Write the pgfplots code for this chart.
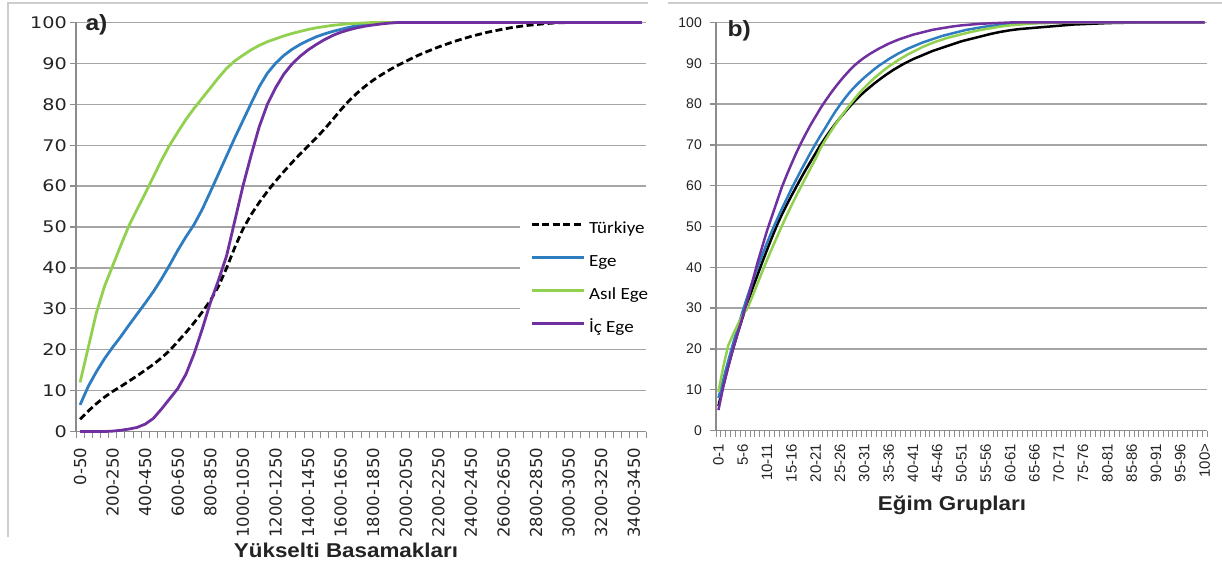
\documentclass[border=0pt]{standalone}
\usepackage{fontspec}
\setmainfont{Liberation Sans}
\usepackage{pgfplots}
\usepackage{pgfplotstable}
\pgfplotsset{compat=1.18}
\newfontfamily\ytfont[FakeStretch=1.2]{DejaVu Sans}
\newfontfamily\xtfont{DejaVu Sans}
\newfontfamily\legfont[FakeStretch=1.12]{Carlito}
\newfontfamily\titfont[FakeStretch=1.12]{Liberation Sans}
\definecolor{cege}{RGB}{46,125,192}
\definecolor{casil}{RGB}{146,208,80}
\definecolor{cic}{RGB}{112,48,160}
\definecolor{cgrid}{RGB}{165,165,165}
\definecolor{caxis}{RGB}{140,140,140}
\definecolor{cframe}{RGB}{205,205,205}
\definecolor{ctext}{RGB}{35,35,35}

\pgfplotstableread{
i tur ege asil ic
0 3 6.5 12 0
1 5 11 20.5 0
2 6.8 14.6 29 0
3 8.4 17.8 35.5 0
4 9.8 20.6 40.5 0.1
5 11 23.2 45.5 0.3
6 12.3 26 50.3 0.6
7 13.6 28.7 54.3 1
8 15 31.4 58.2 1.8
9 16.4 34.2 62.3 3.2
10 18 37.3 66.3 5.5
11 19.8 40.7 70 8
12 22 44.3 73.2 10.5
13 24.2 47.6 76.3 14
14 26.6 50.6 79 19
15 29.2 54.3 81.5 25
16 32 58.6 84 31.5
17 35.5 63 86.5 37
18 40 67.4 88.8 43
19 45 71.8 90.6 51.5
20 49.5 76 92 60
21 53 80.2 93.3 67.5
22 56 84.3 94.4 74.5
23 58.7 87.6 95.3 80
24 61.2 90 96 84
25 63.5 91.9 96.7 87.3
26 65.7 93.4 97.3 89.8
27 67.8 94.6 97.8 91.7
28 69.8 95.6 98.3 93.3
29 71.8 96.5 98.7 94.6
30 73.9 97.2 99 95.8
31 76.2 97.8 99.3 96.8
32 78.6 98.3 99.5 97.6
33 80.8 98.8 99.7 98.2
34 82.7 99.2 99.8 98.7
35 84.4 99.5 99.9 99.1
36 85.9 99.75 100 99.4
37 87.2 99.9 100 99.65
38 88.4 100 100 99.85
39 89.5 100 100 100
40 90.5 100 100 100
41 91.5 100 100 100
42 92.4 100 100 100
43 93.2 100 100 100
44 94 100 100 100
45 94.7 100 100 100
46 95.4 100 100 100
47 96 100 100 100
48 96.6 100 100 100
49 97.1 100 100 100
50 97.6 100 100 100
51 98 100 100 100
52 98.4 100 100 100
53 98.75 100 100 100
54 99.05 100 100 100
55 99.3 100 100 100
56 99.5 100 100 100
57 99.7 100 100 100
58 99.85 100 100 100
59 99.95 100 100 100
60 100 100 100 100
61 100 100 100 100
62 100 100 100 100
63 100 100 100 100
64 100 100 100 100
65 100 100 100 100
66 100 100 100 100
67 100 100 100 100
68 100 100 100 100
69 100 100 100 100
}\lefttab

\pgfplotstableread{
j tur ege asil ic
0 6 8 9.5 5
1 11 12.5 15.6 10.8
2 15.7 17 20.8 15.5
3 20 21.3 23.5 20
4 24 25.4 26 24
5 27.8 29.3 28.3 28
6 31.4 33 30 32
7 34.8 36.5 32.9 36.5
8 38 39.8 35.9 41
9 41.2 43 38.9 45
10 44.3 46 41.8 49
11 47.3 48.9 44.6 52.5
12 50.2 51.6 47.3 56
13 52.8 54.2 50 59.5
14 55.2 56.7 52.6 62.5
15 57.5 59.2 55.1 65.3
16 59.7 61.5 57.5 68
17 61.9 63.8 59.8 70.5
18 64 66 62.1 72.8
19 66 68.2 64.4 75
20 68 70.3 66.6 77
21 70 72.3 69.2 79
22 71.8 74.2 71.2 80.8
23 73.5 76.2 73.1 82.5
24 75.1 78.1 74.9 84.1
25 76.6 79.8 76.6 85.6
26 78 81.4 78.2 87
27 79.4 82.9 79.8 88.3
28 80.7 84.2 81.3 89.5
29 81.9 85.4 82.7 90.5
30 83 86.5 84 91.4
31 84 87.5 85.2 92.2
32 85 88.5 86.3 92.9
33 85.9 89.4 87.3 93.6
34 86.8 90.2 88.3 94.2
35 87.6 91 89.2 94.8
36 88.4 91.7 90 95.3
37 89.1 92.4 90.8 95.8
38 89.8 93 91.5 96.2
39 90.4 93.6 92.2 96.6
40 91 94.1 92.8 97
41 91.5 94.6 93.4 97.3
42 92 95.1 94 97.6
43 92.5 95.5 94.5 97.9
44 93 95.9 95 98.2
45 93.4 96.3 95.4 98.4
46 93.8 96.7 95.8 98.6
47 94.2 97 96.2 98.8
48 94.6 97.3 96.5 99
49 95 97.6 96.8 99.15
50 95.4 97.9 97.1 99.3
51 95.7 98.2 97.4 99.4
52 96 98.4 97.7 99.5
53 96.3 98.6 97.95 99.6
54 96.6 98.8 98.2 99.7
55 96.9 99 98.4 99.75
56 97.2 99.15 98.6 99.8
57 97.45 99.3 98.8 99.85
58 97.7 99.4 99 99.9
59 97.9 99.5 99.15 99.95
60 98.1 99.6 99.3 100
61 98.25 99.65 99.4 100
62 98.4 99.7 99.5 100
63 98.5 99.75 99.6 100
64 98.6 99.8 99.7 100
65 98.7 99.85 99.8 100
66 98.8 99.9 99.83 100
67 98.9 99.93 99.86 100
68 99 99.95 99.88 100
69 99.1 100 99.9 100
70 99.2 100 99.92 100
71 99.3 100 99.94 100
72 99.4 100 99.95 100
73 99.5 100 99.96 100
74 99.55 100 99.97 100
75 99.6 100 99.98 100
76 99.65 100 99.99 100
77 99.7 100 100 100
78 99.75 100 100 100
79 99.8 100 100 100
80 99.85 100 100 100
81 99.88 100 100 100
82 99.9 100 100 100
83 99.93 100 100 100
84 99.95 100 100 100
85 99.97 100 100 100
86 100 100 100 100
87 100 100 100 100
88 100 100 100 100
89 100 100 100 100
90 100 100 100 100
91 100 100 100 100
92 100 100 100 100
93 100 100 100 100
94 100 100 100 100
95 100 100 100 100
96 100 100 100 100
97 100 100 100 100
98 100 100 100 100
99 100 100 100 100
100 100 100 100 100
}\righttab

\pgfplotsset{
  panel/.style={
    scale only axis, anchor=south west, clip=false,
    ymin=0, ymax=100, ytick={0,10,...,100},
    axis x line*=bottom, axis y line*=left,
    axis line style={caxis, line width=1.3pt},
    ymajorgrids, major grid style={cgrid, line width=1.3pt},
    tick align=outside, major tick length=6pt, minor tick length=6.5pt,
    major x tick style={draw=none},
    minor x tick style={caxis, line width=1pt},
    major y tick style={caxis, line width=1.3pt},
    /pgf/number format/assume math mode=true,
    xticklabel style={rotate=90, anchor=east, text=ctext, inner sep=0pt},
    yticklabel style={anchor=east, text=ctext, inner sep=0pt},
  }
}

\begin{document}
\begin{tikzpicture}[x=1pt,y=1pt]
\path[use as bounding box] (0,0) rectangle (1222,568);
\draw[cframe, line width=1.5pt] (8,31) -- (8,565) -- (648,565);
\draw[cframe, line width=1.5pt] (668,565) -- (1222,565);

\begin{axis}[panel,
  at={(76pt,136.5pt)}, width=570pt, height=409pt,
  xmin=-0.5, xmax=69.5,
  xtick={0,4,...,68},
  xticklabels={0-50,200-250,400-450,600-650,800-850,1000-1050,1200-1250,1400-1450,1600-1650,1800-1850,2000-2050,2200-2250,2400-2450,2600-2650,2800-2850,3000-3050,3200-3250,3400-3450},
  minor xtick={-0.5,0.5,...,69.5},
  xticklabel style={font=\xtfont\fontsize{16.5}{16.5}\selectfont, xshift=-10pt},
  yticklabel style={font=\ytfont\fontsize{16}{16}\selectfont, xshift=-3pt},
  legend style={at={(0.779,0.534)}, anchor=north west, draw=none, fill=white,
    inner xsep=10pt, inner ysep=8pt, row sep=17pt,
    font=\legfont\fontsize{17}{17}\selectfont,
    nodes={inner sep=0pt, text height=12pt, text depth=4pt, anchor=west}},
  legend image code/.code={\draw[#1] (0pt,5pt) -- (52pt,5pt);},
  legend cell align=left,
]
\addplot[black, line width=2.8pt, dash pattern=on 7pt off 3.5pt] table[x=i,y=tur]{\lefttab};
\addlegendentry{\hspace{4pt}Türkiye}
\addplot[cege, line width=2.8pt] table[x=i,y=ege]{\lefttab};
\addlegendentry{\hspace{4pt}Ege}
\addplot[casil, line width=2.8pt] table[x=i,y=asil]{\lefttab};
\addlegendentry{\hspace{4pt}Asıl Ege}
\addplot[cic, line width=2.8pt] table[x=i,y=ic]{\lefttab};
\addlegendentry{\hspace{4pt}İç Ege}
\end{axis}

\begin{axis}[panel,
  at={(716pt,137.5pt)}, width=491pt, height=408pt,
  xmin=-0.5, xmax=100.5,
  xtick={0,5,...,100},
  xticklabels={0-1,5-6,10-11,15-16,20-21,25-26,30-31,35-36,40-41,45-46,50-51,55-56,60-61,65-66,70-71,75-76,80-81,85-86,90-91,95-96,100>},
  minor xtick={-0.5,0.5,...,100.5},
  xticklabel style={font=\fontsize{15}{15}\selectfont, xshift=-7pt},
  yticklabel style={font=\fontsize{14}{14}\selectfont, xshift=-8pt},
]
\addplot[black, line width=2.5pt] table[x=j,y=tur]{\righttab};
\addplot[cege, line width=2.5pt] table[x=j,y=ege]{\righttab};
\addplot[casil, line width=2.5pt] table[x=j,y=asil]{\righttab};
\addplot[cic, line width=2.5pt] table[x=j,y=ic]{\righttab};
\end{axis}

\node[anchor=west, font=\titfont\bfseries\fontsize{22}{22}\selectfont, text=ctext] at (82,543) {a)};
\node[anchor=west, font=\titfont\bfseries\fontsize{22}{22}\selectfont, text=ctext] at (724,537) {b)};
\node[anchor=base, font=\titfont\bfseries\fontsize{20}{20}\selectfont, text=ctext] at (346,11) {Yükselti Basamakları};
\node[anchor=base, font=\titfont\bfseries\fontsize{20}{20}\selectfont, text=ctext] at (952,58) {Eğim Grupları};
\end{tikzpicture}
\end{document}
